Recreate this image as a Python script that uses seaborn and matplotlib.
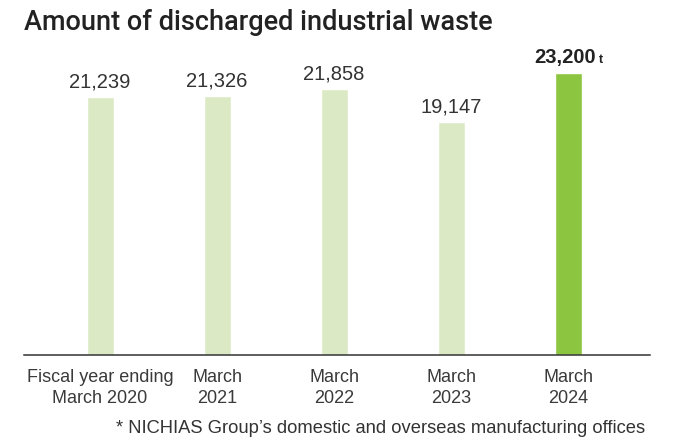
import matplotlib
matplotlib.use("Agg")
import matplotlib.pyplot as plt
import seaborn as sns
import pandas as pd

categories = ["Fiscal year ending\nMarch 2020", "March\n2021", "March\n2022",
              "March\n2023", "March\n2024"]
waste_t = [21239, 21326, 21858, 19147, 23200]
bar_colors = ["#dbeac4", "#dbeac4", "#dbeac4", "#dbeac4", "#8cc53f"]
title = "Amount of discharged industrial waste"
footnote = "* NICHIAS Group\u2019s domestic and overseas manufacturing offices"
unit = "t"

sns.set_theme(style="white")
plt.rcParams["font.family"] = ["Liberation Sans", "DejaVu Sans"]

df = pd.DataFrame({"year": categories, "waste": waste_t})

fig = plt.figure(figsize=(6.78, 4.44), dpi=100)
ax = fig.add_axes([24 / 678, 1 - 355 / 444, 626 / 678, 305 / 444])

sns.barplot(data=df, x="year", y="waste", hue="year", palette=bar_colors,
            legend=False, width=0.23, saturation=1, ax=ax)

ax.set_xlim(-0.65, 4.70)
ax.set_ylim(0, 25080)
ax.set_xlabel("")
ax.set_ylabel("")
ax.set_yticks([])
for side in ("top", "right", "left"):
    ax.spines[side].set_visible(False)
ax.spines["bottom"].set_color("#333333")
ax.spines["bottom"].set_linewidth(1.1)
ax.tick_params(axis="x", length=0, pad=10, labelsize=13, labelcolor="#3a3a3a")
for lbl in ax.get_xticklabels():
    lbl.set_linespacing(1.3)

last = len(waste_t) - 1
for i, v in enumerate(waste_t):
    if i == last:
        num = ax.annotate(f"{v:,}", xy=(i, v), xytext=(-2, 4), textcoords="offset points",
                          ha="center", va="bottom", fontsize=14.5, fontweight="bold",
                          color="#222222")
        ax.annotate(unit, xy=(1, 0), xycoords=num, xytext=(2, 1),
                    textcoords="offset points", ha="left", va="bottom",
                    fontsize=9, fontweight="bold", color="#222222")
    else:
        ax.annotate(f"{v:,}", xy=(i, v), xytext=(0, 4), textcoords="offset points",
                    ha="center", va="bottom", fontsize=14.5, color="#333333")

fig.text(24 / 678, 1 - 23 / 444, title, ha="left", va="center",
         fontsize=19.5, fontweight=500, color="#222222",
         family=["Roboto", "Liberation Sans", "DejaVu Sans"])
fig.text(645 / 678, 1 - 428 / 444, footnote, ha="right", va="center",
         fontsize=13.2, color="#333333")

fig.savefig("out.png", dpi=100)
